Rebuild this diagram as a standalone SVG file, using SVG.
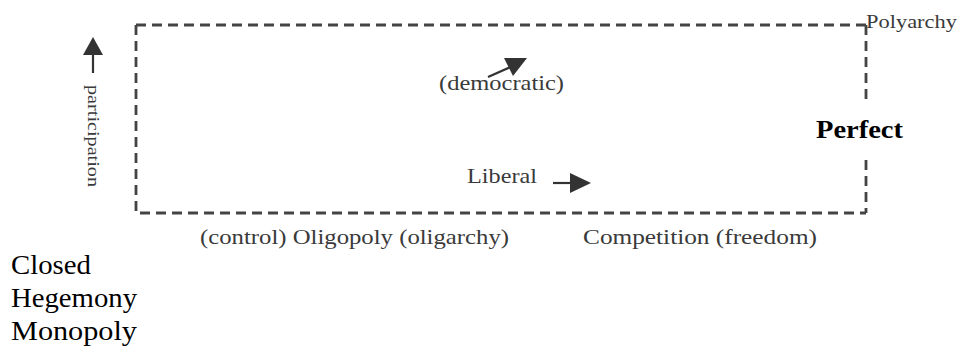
<svg xmlns="http://www.w3.org/2000/svg" width="964" height="352" viewBox="0 0 964 352">
<style>
.lbl{font-family:"Liberation Serif","Times New Roman",serif;fill:#3a3a3a}
.blk{font-family:"Liberation Serif","Times New Roman",serif;fill:#000}
.dash{fill:none;stroke:#444;stroke-width:2.8;stroke-dasharray:10 6}
.arr{stroke:#333;stroke-width:2.2;fill:none}
.head{fill:#333}
</style>
<rect width="964" height="352" fill="#fff"/>
<g id="frame">
<path class="dash" d="M136,25 H866"/>
<path class="dash" d="M136,25 V213 H866"/>
<path class="dash" d="M866,25 V100"/>
<path class="dash" d="M866,160 V213"/>
</g>
<g id="connectors">
<line class="arr" x1="93" y1="73" x2="93" y2="52"/>
<polygon class="head" points="93,37 103,55 83,55"/>
<line class="arr" x1="488" y1="77" x2="515" y2="65"/>
<polygon class="head" points="504,58 527,58 513,76"/>
<line class="arr" x1="553" y1="183" x2="574" y2="183"/>
<polygon class="head" points="591,183 570,173 570,193"/>
</g>
<g id="participation"><text class="lbl" font-size="17" transform="translate(88,85) rotate(90)" textLength="102" lengthAdjust="spacingAndGlyphs">participation</text></g>
<g id="polyarchy"><text class="lbl" x="866" y="28" font-size="19" textLength="91" lengthAdjust="spacingAndGlyphs">Polyarchy</text></g>
<g id="democratic"><text class="lbl" x="439" y="90" font-size="22" textLength="125" lengthAdjust="spacingAndGlyphs">(democratic)</text></g>
<g id="perfect"><text class="blk" x="816" y="138" font-size="25" font-weight="bold" textLength="87" lengthAdjust="spacingAndGlyphs">Perfect</text></g>
<g id="liberal"><text class="lbl" x="467" y="183" font-size="21" textLength="70" lengthAdjust="spacingAndGlyphs">Liberal</text></g>
<g id="oligopoly"><text class="lbl" x="200" y="244" font-size="21" textLength="309" lengthAdjust="spacingAndGlyphs">(control) Oligopoly (oligarchy)</text></g>
<g id="competition"><text class="lbl" x="583" y="244" font-size="21" textLength="234" lengthAdjust="spacingAndGlyphs">Competition (freedom)</text></g>
<g id="closed"><text class="blk" x="11" y="274" font-size="27" textLength="80" lengthAdjust="spacingAndGlyphs">Closed</text></g>
<g id="hegemony"><text class="blk" x="11" y="307" font-size="27" textLength="126" lengthAdjust="spacingAndGlyphs">Hegemony</text></g>
<g id="monopoly"><text class="blk" x="11" y="340" font-size="27" textLength="126" lengthAdjust="spacingAndGlyphs">Monopoly</text></g>
</svg>
